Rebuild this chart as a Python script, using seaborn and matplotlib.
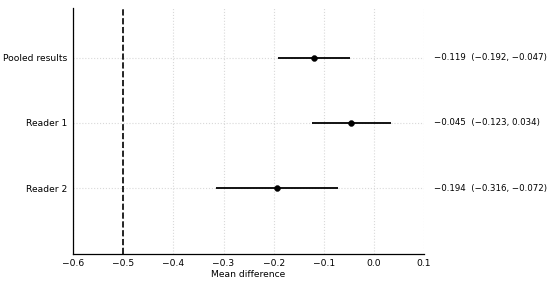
import numpy as np
import pandas as pd
import matplotlib
matplotlib.use('Agg')
import matplotlib.pyplot as plt
import seaborn as sns

# forest plot data
labels = ['Pooled results', 'Reader 1', 'Reader 2']
means = [-0.119, -0.045, -0.194]
lower = [-0.192, -0.123, -0.316]
upper = [-0.047, 0.034, -0.072]
ref_line = -0.5
xticks = [-0.6, -0.5, -0.4, -0.3, -0.2, -0.1, 0.0, 0.1]

sns.set_style('white')
plt.rcParams['font.family'] = ['DejaVu Sans']
plt.rcParams['font.size'] = 6.6
plt.rcParams['text.color'] = 'black'
plt.rcParams['axes.labelcolor'] = 'black'

ypos = [2, 1, 0]
df = pd.DataFrame({'label': labels, 'mean': means, 'lo': lower, 'hi': upper, 'y': ypos})

fig, ax = plt.subplots(figsize=(5.5, 2.81), dpi=100)
fig.subplots_adjust(left=0.133, right=0.771, top=0.972, bottom=0.097)

ax.grid(True, color='#d9d9d9', ls=':', lw=0.8)
ax.set_axisbelow(True)
ax.hlines(df['y'], df['lo'], df['hi'], color='black', lw=1.3, zorder=3)
sns.scatterplot(data=df, x='mean', y='y', color='black', s=18, edgecolor='black',
                zorder=4, ax=ax, legend=False)
ax.axvline(ref_line, color='black', ls='--', lw=1.2, zorder=2)

for _, r in df.iterrows():
    ax.text(1.027, r['y'], '{:.3f}  ({:.3f}, {:.3f})'.format(r['mean'], r['lo'], r['hi']).replace('-', '\u2212'),
            transform=ax.get_yaxis_transform(), va='center', ha='left', fontsize=6.2)

ax.set_xlim(-0.6, 0.1)
ax.set_ylim(-1, 2.76)
ax.set_xticks(xticks)
ax.set_yticks(ypos)
ax.set_yticklabels(labels)
ax.set_xlabel('Mean difference', labelpad=1)
ax.set_ylabel('')
ax.tick_params(direction='in', length=3, width=0.8, colors='black', labelsize=6.6, pad=4)
for s in ['top', 'right']:
    ax.spines[s].set_visible(False)
for s in ['left', 'bottom']:
    ax.spines[s].set_color('black')
    ax.spines[s].set_linewidth(0.9)

fig.savefig('out.png', dpi=100)
